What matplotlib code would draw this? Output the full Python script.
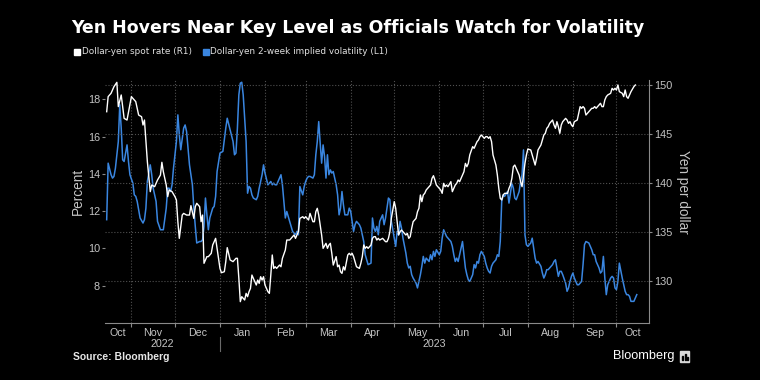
import matplotlib.pyplot as plt
import matplotlib.dates as mdates
import matplotlib.ticker as mticker
from matplotlib.patches import Rectangle
import pandas as pd

plt.rcParams['font.family'] = ['Liberation Sans', 'DejaVu Sans']

# dollar-yen spot rate (right axis)
spot_dates = [
    '2022-10-15', '2022-10-16', '2022-10-18', '2022-10-20', '2022-10-22', '2022-10-23', '2022-10-25', '2022-10-27',
    '2022-10-29', '2022-11-01', '2022-11-03', '2022-11-04', '2022-11-06', '2022-11-08', '2022-11-09', '2022-11-10',
    '2022-11-12', '2022-11-14', '2022-11-15', '2022-11-17', '2022-11-19', '2022-11-21', '2022-11-22', '2022-11-23',
    '2022-11-25', '2022-11-26', '2022-11-27', '2022-11-29', '2022-12-01', '2022-12-02', '2022-12-03', '2022-12-04',
    '2022-12-06', '2022-12-07', '2022-12-09', '2022-12-11', '2022-12-12', '2022-12-14', '2022-12-15', '2022-12-16',
    '2022-12-18', '2022-12-19', '2022-12-20', '2022-12-21', '2022-12-23', '2022-12-24', '2022-12-26', '2022-12-27',
    '2022-12-29', '2022-12-30', '2023-01-01', '2023-01-02', '2023-01-04', '2023-01-05', '2023-01-06', '2023-01-08',
    '2023-01-10', '2023-01-12', '2023-01-13', '2023-01-14', '2023-01-15', '2023-01-16', '2023-01-18', '2023-01-19',
    '2023-01-20', '2023-01-21', '2023-01-22', '2023-01-23', '2023-01-24', '2023-01-26', '2023-01-27', '2023-01-28',
    '2023-01-29', '2023-01-30', '2023-01-31', '2023-02-01', '2023-02-03', '2023-02-04', '2023-02-05', '2023-02-06',
    '2023-02-07', '2023-02-08', '2023-02-09', '2023-02-11', '2023-02-12', '2023-02-13', '2023-02-15', '2023-02-16',
    '2023-02-18', '2023-02-19', '2023-02-21', '2023-02-22', '2023-02-24', '2023-02-25', '2023-02-27', '2023-02-28',
    '2023-03-01', '2023-03-03', '2023-03-04', '2023-03-06', '2023-03-07', '2023-03-08', '2023-03-09', '2023-03-10',
    '2023-03-11', '2023-03-12', '2023-03-13', '2023-03-15', '2023-03-16', '2023-03-17', '2023-03-18', '2023-03-19',
    '2023-03-20', '2023-03-22', '2023-03-23', '2023-03-24', '2023-03-25', '2023-03-26', '2023-03-27', '2023-03-28',
    '2023-03-30', '2023-03-31', '2023-04-01', '2023-04-02', '2023-04-03', '2023-04-04', '2023-04-05', '2023-04-07',
    '2023-04-08', '2023-04-09', '2023-04-10', '2023-04-11', '2023-04-12', '2023-04-13', '2023-04-15', '2023-04-16',
    '2023-04-17', '2023-04-18', '2023-04-19', '2023-04-20', '2023-04-21', '2023-04-23', '2023-04-24', '2023-04-25',
    '2023-04-26', '2023-04-27', '2023-04-28', '2023-04-29', '2023-05-01', '2023-05-02', '2023-05-03', '2023-05-04',
    '2023-05-05', '2023-05-06', '2023-05-07', '2023-05-09', '2023-05-10', '2023-05-11', '2023-05-12', '2023-05-13',
    '2023-05-14', '2023-05-16', '2023-05-17', '2023-05-18', '2023-05-19', '2023-05-20', '2023-05-21', '2023-05-22',
    '2023-05-23', '2023-05-25', '2023-05-26', '2023-05-27', '2023-05-28', '2023-05-29', '2023-05-30', '2023-06-01',
    '2023-06-02', '2023-06-03', '2023-06-04', '2023-06-05', '2023-06-06', '2023-06-07', '2023-06-09', '2023-06-10',
    '2023-06-11', '2023-06-12', '2023-06-13', '2023-06-14', '2023-06-15', '2023-06-17', '2023-06-18', '2023-06-19',
    '2023-06-20', '2023-06-21', '2023-06-22', '2023-06-24', '2023-06-25', '2023-06-26', '2023-06-27', '2023-06-28',
    '2023-06-29', '2023-06-30', '2023-07-02', '2023-07-03', '2023-07-04', '2023-07-05', '2023-07-06', '2023-07-07',
    '2023-07-08', '2023-07-10', '2023-07-11', '2023-07-12', '2023-07-13', '2023-07-14', '2023-07-15', '2023-07-16',
    '2023-07-18', '2023-07-19', '2023-07-20', '2023-07-21', '2023-07-22', '2023-07-23', '2023-07-24', '2023-07-26',
    '2023-07-27', '2023-07-28', '2023-07-29', '2023-07-30', '2023-07-31', '2023-08-01', '2023-08-03', '2023-08-04',
    '2023-08-05', '2023-08-06', '2023-08-07', '2023-08-08', '2023-08-10', '2023-08-11', '2023-08-12', '2023-08-13',
    '2023-08-14', '2023-08-15', '2023-08-16', '2023-08-18', '2023-08-19', '2023-08-20', '2023-08-21', '2023-08-22',
    '2023-08-23', '2023-08-24', '2023-08-25', '2023-08-27', '2023-08-28', '2023-08-29', '2023-08-30', '2023-08-31',
    '2023-09-01', '2023-09-02', '2023-09-04', '2023-09-05', '2023-09-06', '2023-09-07', '2023-09-08', '2023-09-09',
    '2023-09-10', '2023-09-12', '2023-09-13', '2023-09-14', '2023-09-15', '2023-09-16', '2023-09-17', '2023-09-19',
    '2023-09-20', '2023-09-21', '2023-09-22', '2023-09-23', '2023-09-24', '2023-09-25', '2023-09-27', '2023-09-28',
    '2023-09-29', '2023-09-30', '2023-10-01', '2023-10-02', '2023-10-03', '2023-10-05', '2023-10-06', '2023-10-07',
    '2023-10-08', '2023-10-09', '2023-10-10', '2023-10-11', '2023-10-13', '2023-10-14',
]
spot_vals = [
    147.27, 148.81, 149.15, 149.83, 150.27, 147.79, 148.98, 146.59,
    146.42, 148.81, 148.47, 148.30, 146.93, 146.76, 145.91, 146.42,
    142.16, 139.10, 139.78, 139.61, 140.29, 140.80, 142.10, 141.14,
    139.78, 138.59, 139.27, 139.10, 138.59, 138.25, 136.03, 134.33,
    136.71, 136.88, 136.71, 136.71, 137.67, 136.37, 137.57, 137.91,
    137.57, 136.03, 136.71, 131.78, 132.46, 132.46, 132.80, 133.65,
    134.33, 133.31, 131.26, 130.82, 130.92, 131.95, 133.38, 132.12,
    131.95, 132.29, 132.29, 130.24, 127.86, 128.37, 128.03, 128.71,
    128.37, 128.88, 129.22, 130.58, 130.24, 129.56, 130.07, 129.73,
    130.41, 130.07, 130.41, 129.56, 128.88, 128.71, 130.58, 132.63,
    131.26, 131.43, 131.26, 131.60, 131.43, 132.29, 133.14, 134.16,
    134.16, 134.33, 134.67, 134.33, 135.01, 136.37, 136.54, 136.37,
    136.54, 136.20, 136.88, 136.03, 136.03, 137.05, 137.40, 136.71,
    135.69, 134.67, 133.31, 133.82, 133.31, 133.65, 133.82, 132.80,
    131.60, 132.46, 131.43, 131.60, 130.92, 130.75, 131.43, 131.09,
    132.63, 132.80, 132.63, 132.80, 132.46, 131.95, 131.43, 131.26,
    131.78, 132.46, 133.65, 133.31, 133.48, 133.31, 133.65, 134.33,
    134.50, 134.50, 134.16, 134.33, 134.16, 134.33, 134.16, 133.99,
    133.99, 134.33, 135.01, 136.37, 138.08, 137.40, 136.03, 134.67,
    135.01, 135.18, 135.01, 134.67, 134.84, 134.33, 134.50, 135.35,
    136.03, 136.37, 137.05, 137.40, 138.76, 138.08, 138.76, 138.93,
    139.27, 139.61, 139.78, 140.46, 140.73, 140.29, 139.78, 139.44,
    139.27, 138.93, 139.95, 139.61, 139.78, 139.61, 140.12, 139.10,
    139.44, 139.78, 139.95, 140.29, 140.12, 140.80, 141.14, 141.99,
    141.65, 141.99, 142.85, 143.70, 143.53, 143.87, 144.21, 144.38,
    144.72, 144.89, 144.55, 144.72, 144.72, 144.55, 144.72, 144.21,
    142.85, 141.82, 140.80, 139.44, 138.42, 138.25, 138.76, 138.93,
    138.93, 139.44, 139.78, 140.46, 141.65, 141.82, 141.48, 140.80,
    140.12, 139.61, 140.80, 141.99, 142.85, 143.46, 143.36, 142.85,
    142.34, 141.82, 142.51, 143.36, 143.87, 144.38, 144.89, 145.06,
    145.57, 145.74, 146.08, 146.42, 145.91, 145.57, 146.25, 145.74,
    145.06, 145.91, 146.25, 146.59, 146.42, 146.08, 146.25, 145.91,
    145.74, 146.25, 146.42, 147.10, 147.79, 147.62, 147.79, 147.62,
    146.93, 147.27, 147.45, 147.62, 147.62, 147.79, 147.62, 147.96,
    148.13, 147.79, 147.79, 148.47, 148.81, 148.98, 149.15, 149.66,
    149.49, 149.66, 149.49, 150.00, 149.32, 149.15, 148.81, 149.49,
    148.81, 148.64, 148.98, 149.32, 149.83, 150.00,
]

# dollar-yen 2-week implied volatility, percent (left axis)
vol_dates = [
    '2022-10-15', '2022-10-16', '2022-10-18', '2022-10-19', '2022-10-20', '2022-10-21', '2022-10-23', '2022-10-24',
    '2022-10-25', '2022-10-26', '2022-10-27', '2022-10-29', '2022-10-30', '2022-10-31', '2022-11-02', '2022-11-03',
    '2022-11-04', '2022-11-05', '2022-11-07', '2022-11-09', '2022-11-10', '2022-11-11', '2022-11-12', '2022-11-14',
    '2022-11-15', '2022-11-16', '2022-11-17', '2022-11-18', '2022-11-19', '2022-11-21', '2022-11-22', '2022-11-23',
    '2022-11-25', '2022-11-26', '2022-11-27', '2022-11-28', '2022-11-29', '2022-11-30', '2022-12-02', '2022-12-03',
    '2022-12-04', '2022-12-05', '2022-12-07', '2022-12-08', '2022-12-09', '2022-12-10', '2022-12-11', '2022-12-13',
    '2022-12-14', '2022-12-15', '2022-12-16', '2022-12-18', '2022-12-19', '2022-12-20', '2022-12-21', '2022-12-22',
    '2022-12-23', '2022-12-24', '2022-12-25', '2022-12-27', '2022-12-28', '2022-12-29', '2022-12-30', '2023-01-01',
    '2023-01-03', '2023-01-05', '2023-01-06', '2023-01-08', '2023-01-10', '2023-01-11', '2023-01-12', '2023-01-13',
    '2023-01-14', '2023-01-15', '2023-01-16', '2023-01-17', '2023-01-19', '2023-01-20', '2023-01-21', '2023-01-22',
    '2023-01-23', '2023-01-24', '2023-01-26', '2023-01-27', '2023-01-28', '2023-01-29', '2023-01-30', '2023-01-31',
    '2023-02-01', '2023-02-03', '2023-02-04', '2023-02-05', '2023-02-06', '2023-02-07', '2023-02-08', '2023-02-09',
    '2023-02-11', '2023-02-12', '2023-02-13', '2023-02-14', '2023-02-15', '2023-02-16', '2023-02-18', '2023-02-19',
    '2023-02-20', '2023-02-21', '2023-02-22', '2023-02-23', '2023-02-24', '2023-02-25', '2023-02-27', '2023-02-28',
    '2023-03-01', '2023-03-02', '2023-03-03', '2023-03-04', '2023-03-06', '2023-03-07', '2023-03-08', '2023-03-09',
    '2023-03-10', '2023-03-11', '2023-03-12', '2023-03-13', '2023-03-14', '2023-03-15', '2023-03-16', '2023-03-17',
    '2023-03-18', '2023-03-19', '2023-03-20', '2023-03-22', '2023-03-23', '2023-03-24', '2023-03-25', '2023-03-26',
    '2023-03-27', '2023-03-28', '2023-03-30', '2023-03-31', '2023-04-01', '2023-04-02', '2023-04-03', '2023-04-04',
    '2023-04-05', '2023-04-07', '2023-04-08', '2023-04-09', '2023-04-10', '2023-04-11', '2023-04-12', '2023-04-13',
    '2023-04-15', '2023-04-16', '2023-04-17', '2023-04-18', '2023-04-19', '2023-04-20', '2023-04-21', '2023-04-23',
    '2023-04-24', '2023-04-25', '2023-04-26', '2023-04-27', '2023-04-28', '2023-04-29', '2023-05-01', '2023-05-02',
    '2023-05-03', '2023-05-04', '2023-05-05', '2023-05-06', '2023-05-07', '2023-05-09', '2023-05-10', '2023-05-11',
    '2023-05-12', '2023-05-13', '2023-05-14', '2023-05-16', '2023-05-17', '2023-05-18', '2023-05-19', '2023-05-20',
    '2023-05-21', '2023-05-22', '2023-05-23', '2023-05-25', '2023-05-26', '2023-05-27', '2023-05-28', '2023-05-29',
    '2023-05-30', '2023-06-01', '2023-06-02', '2023-06-03', '2023-06-04', '2023-06-05', '2023-06-06', '2023-06-07',
    '2023-06-09', '2023-06-10', '2023-06-11', '2023-06-12', '2023-06-13', '2023-06-14', '2023-06-15', '2023-06-17',
    '2023-06-18', '2023-06-19', '2023-06-20', '2023-06-21', '2023-06-22', '2023-06-24', '2023-06-25', '2023-06-26',
    '2023-06-27', '2023-06-28', '2023-06-29', '2023-06-30', '2023-07-02', '2023-07-03', '2023-07-04', '2023-07-05',
    '2023-07-06', '2023-07-07', '2023-07-08', '2023-07-10', '2023-07-11', '2023-07-12', '2023-07-13', '2023-07-14',
    '2023-07-15', '2023-07-16', '2023-07-18', '2023-07-19', '2023-07-20', '2023-07-21', '2023-07-22', '2023-07-23',
    '2023-07-24', '2023-07-26', '2023-07-27', '2023-07-28', '2023-07-29', '2023-07-30', '2023-07-31', '2023-08-01',
    '2023-08-03', '2023-08-04', '2023-08-05', '2023-08-06', '2023-08-07', '2023-08-08', '2023-08-10', '2023-08-11',
    '2023-08-12', '2023-08-13', '2023-08-14', '2023-08-15', '2023-08-16', '2023-08-18', '2023-08-19', '2023-08-20',
    '2023-08-21', '2023-08-22', '2023-08-23', '2023-08-24', '2023-08-25', '2023-08-27', '2023-08-28', '2023-08-29',
    '2023-08-30', '2023-08-31', '2023-09-01', '2023-09-02', '2023-09-04', '2023-09-05', '2023-09-06', '2023-09-07',
    '2023-09-08', '2023-09-09', '2023-09-10', '2023-09-12', '2023-09-13', '2023-09-14', '2023-09-15', '2023-09-16',
    '2023-09-17', '2023-09-19', '2023-09-20', '2023-09-21', '2023-09-22', '2023-09-23', '2023-09-24', '2023-09-25',
    '2023-09-27', '2023-09-28', '2023-09-29', '2023-09-30', '2023-10-01', '2023-10-02', '2023-10-03', '2023-10-05',
    '2023-10-06', '2023-10-07', '2023-10-08', '2023-10-09', '2023-10-10', '2023-10-11', '2023-10-13', '2023-10-14',
    '2023-10-15',
]
vol_vals = [
    11.54, 14.57, 13.95, 13.77, 13.86, 14.30, 15.73, 17.70,
    16.45, 14.75, 14.66, 15.55, 14.66, 13.95, 13.50, 12.87,
    12.79, 12.52, 11.63, 11.36, 11.54, 12.16, 13.59, 14.48,
    13.95, 13.23, 12.87, 12.52, 11.45, 11.00, 11.00, 11.00,
    12.16, 13.23, 13.23, 13.05, 13.41, 14.30, 15.73, 17.16,
    16.09, 15.29, 16.45, 16.62, 16.27, 15.37, 14.48, 13.41,
    12.16, 11.18, 10.29, 10.37, 10.37, 10.46, 11.18, 12.70,
    11.80, 11.00, 11.63, 12.16, 12.25, 12.79, 14.12, 15.11,
    15.20, 16.45, 16.98, 16.36, 15.73, 15.02, 15.11, 16.45,
    18.23, 18.86, 18.91, 18.23, 15.73, 12.96, 13.32, 13.23,
    12.87, 12.70, 12.61, 12.79, 13.23, 13.59, 13.95, 14.48,
    14.04, 13.41, 13.50, 13.59, 13.41, 13.50, 13.41, 13.41,
    13.77, 13.95, 13.41, 12.52, 11.63, 11.98, 11.45, 11.18,
    10.91, 10.82, 10.73, 10.91, 10.73, 13.32, 12.87, 13.32,
    13.59, 13.77, 13.86, 13.86, 13.77, 13.95, 15.02, 15.73,
    16.80, 15.64, 14.57, 15.55, 14.93, 13.77, 15.02, 13.95,
    14.21, 14.04, 14.12, 13.41, 12.87, 11.80, 12.16, 13.05,
    12.34, 11.80, 11.80, 12.16, 11.98, 11.45, 10.91, 11.27,
    11.45, 11.27, 11.09, 10.73, 10.37, 9.66, 9.39, 9.13,
    9.21, 11.63, 11.09, 10.91, 11.18, 10.73, 11.45, 11.80,
    11.27, 11.63, 12.16, 12.70, 12.61, 11.45, 10.55, 10.11,
    10.91, 10.73, 11.45, 11.09, 10.55, 9.75, 9.21, 8.95,
    9.04, 8.59, 8.41, 8.14, 7.88, 8.23, 8.59, 9.04,
    9.57, 9.21, 9.48, 9.30, 9.66, 9.39, 9.84, 9.57,
    9.93, 9.66, 9.84, 10.55, 11.00, 10.82, 10.64, 10.55,
    10.37, 10.11, 9.66, 9.30, 9.48, 9.30, 9.66, 10.37,
    9.66, 8.95, 8.59, 8.32, 8.23, 8.59, 9.13, 8.95,
    9.30, 9.21, 9.66, 9.84, 9.57, 9.21, 8.95, 8.77,
    8.68, 9.04, 9.21, 9.39, 9.66, 9.57, 10.37, 12.52,
    12.87, 12.79, 13.05, 12.43, 12.96, 13.50, 13.23, 12.70,
    12.61, 13.05, 13.59, 13.95, 15.28, 10.73, 10.20, 10.11,
    10.29, 10.55, 10.02, 9.48, 9.21, 9.30, 9.04, 8.68,
    8.41, 8.59, 8.86, 8.86, 8.95, 9.13, 9.30, 9.39,
    8.95, 8.50, 8.77, 8.77, 8.59, 8.14, 7.70, 7.88,
    8.23, 8.50, 8.68, 8.41, 8.05, 8.05, 8.14, 8.23,
    9.13, 10.20, 10.37, 10.29, 10.11, 9.93, 9.66, 9.66,
    9.30, 8.95, 8.68, 8.77, 9.57, 8.41, 7.52, 8.05,
    8.41, 8.50, 8.41, 7.88, 7.79, 8.23, 9.21, 8.41,
    8.05, 7.70, 7.52, 7.52, 7.43, 7.16, 7.16, 7.34,
    7.52,
]

month_labels = ['Oct', 'Nov', 'Dec', 'Jan', 'Feb', 'Mar', 'Apr', 'May', 'Jun', 'Jul', 'Aug', 'Sep', 'Oct']
year_labels = ['2022', '2023']
vol_ticks = [8, 10, 12, 14, 16, 18]
spot_ticks = [130, 135, 140, 145, 150]

title = 'Yen Hovers Near Key Level as Officials Watch for Volatility'
spot_name = 'Dollar-yen spot rate (R1)'
vol_name = 'Dollar-yen 2-week implied volatility (L1)'

BG = 'black'
BLUE = '#3a86e0'
GRID = '#505050'
TXT = '#c4c4c4'
SPINE = '#8a8a8a'
W, H = 760, 380

spot_dates = pd.to_datetime(spot_dates)
vol_dates = pd.to_datetime(vol_dates)

fig = plt.figure(figsize=(7.6, 3.8), dpi=100, facecolor=BG)
ax = fig.add_axes([105 / W, 57 / H, 544 / W, 243 / H])
ax.set_facecolor(BG)
ax2 = ax.twinx()

ax.plot(vol_dates, vol_vals, color=BLUE, lw=1.1)
ax2.plot(spot_dates, spot_vals, color='white', lw=1.0)

x0 = pd.Timestamp('2022-10-13 20:00')
x1 = pd.Timestamp('2023-10-23 10:00')
ax.set_xlim(x0, x1)
ax.set_ylim(6.0, 19.03)
ax2.set_ylim(125.68, 150.51)

# month ticks at month starts, labels centred on the visible part of each month
starts = pd.date_range('2022-10-01', '2023-11-01', freq='MS')
mids = []
for a, b in zip(starts[:-1], starts[1:]):
    a, b = max(a, x0), min(b, x1)
    mids.append(a + (b - a) / 2)
ax.xaxis.set_major_locator(mticker.FixedLocator(mdates.date2num(starts[1:-1])))
ax.xaxis.set_major_formatter(mticker.NullFormatter())
ax.xaxis.set_minor_locator(mticker.FixedLocator(mdates.date2num(mids)))
ax.xaxis.set_minor_formatter(mticker.FixedFormatter(month_labels))
ax.tick_params(axis='x', which='major', length=3, width=0.8, color=SPINE)
ax.tick_params(axis='x', which='minor', length=0, pad=3.5, labelsize=7.7, labelcolor=TXT)

ax.set_yticks(vol_ticks)
ax.tick_params(axis='y', length=2.4, width=0.8, color=SPINE, pad=1.2, labelsize=7.8, labelcolor=TXT)
ax2.set_yticks(spot_ticks)
ax2.tick_params(axis='y', length=2, width=0.8, color=SPINE, pad=1.5, labelsize=7.8, labelcolor=TXT)

ax.grid(axis='x', which='major', color=GRID, ls=':', lw=0.8)
ax2.grid(axis='y', color=GRID, ls=':', lw=0.8)
ax.set_axisbelow(True)

for s in ['top', 'left', 'right']:
    ax.spines[s].set_visible(False)
for s in ['top', 'left', 'bottom']:
    ax2.spines[s].set_visible(False)
ax.spines['bottom'].set_color(SPINE)
ax2.spines['right'].set_color(SPINE)

# year labels under the month labels, with a divider at the new year
xt = ax.get_xaxis_transform()
new_year = pd.Timestamp('2023-01-01')
for lab, a, b in zip(year_labels, [x0, new_year], [new_year, x1]):
    ax.text(a + (b - a) / 2, -0.087, lab, transform=xt, ha='center', va='center', fontsize=7.7, color=TXT)
ax.plot([new_year, new_year], [-0.058, -0.115], transform=xt, color='#6a6a6a', lw=0.8, clip_on=False)

# axis titles
fig.text(78 / W, 1 - 191.5 / H, 'Percent', rotation=90, ha='center', va='center', fontsize=9.8, color=TXT)
fig.text(683 / W, 1 - 191.5 / H, 'Yen per dollar', rotation=270, ha='center', va='center', fontsize=9.8, color=TXT)

# title and legend (wider face, like the original)
wide = ['DejaVu Sans']
fig.text(71 / W, 1 - 28 / H, title, ha='left', va='center', fontsize=12.5, weight='bold',
         color='white', family=wide)
fig.patches.append(Rectangle((74 / W, 1 - 55 / H), 6 / W, 6 / H, transform=fig.transFigure, color='white'))
fig.text(82.5 / W, 1 - 52 / H, spot_name, ha='left', va='center', fontsize=6.4, color='#e0e0e0', family=wide)
fig.patches.append(Rectangle((203 / W, 1 - 55 / H), 6 / W, 6 / H, transform=fig.transFigure, color=BLUE))
fig.text(210.5 / W, 1 - 52 / H, vol_name, ha='left', va='center', fontsize=6.4, color='#e0e0e0', family=wide)

# footer
fig.text(73 / W, 1 - 357 / H, 'Source: Bloomberg', ha='left', va='center', fontsize=7.5, weight='bold', color='#e6e6e6')
fig.text(674 / W, 1 - 356 / H, 'Bloomberg', ha='right', va='center', fontsize=9.2, color='white')
fig.patches.append(Rectangle((680 / W, 1 - 362 / H), 9 / W, 11 / H, transform=fig.transFigure, color='#d8d8d8'))
for bx, bh in [(682, 4), (684.5, 6), (687, 3)]:
    fig.patches.append(Rectangle((bx / W, 1 - 360 / H), 1.2 / W, bh / H, transform=fig.transFigure, color=BG))

fig.savefig('out.png', dpi=100, facecolor=BG)
